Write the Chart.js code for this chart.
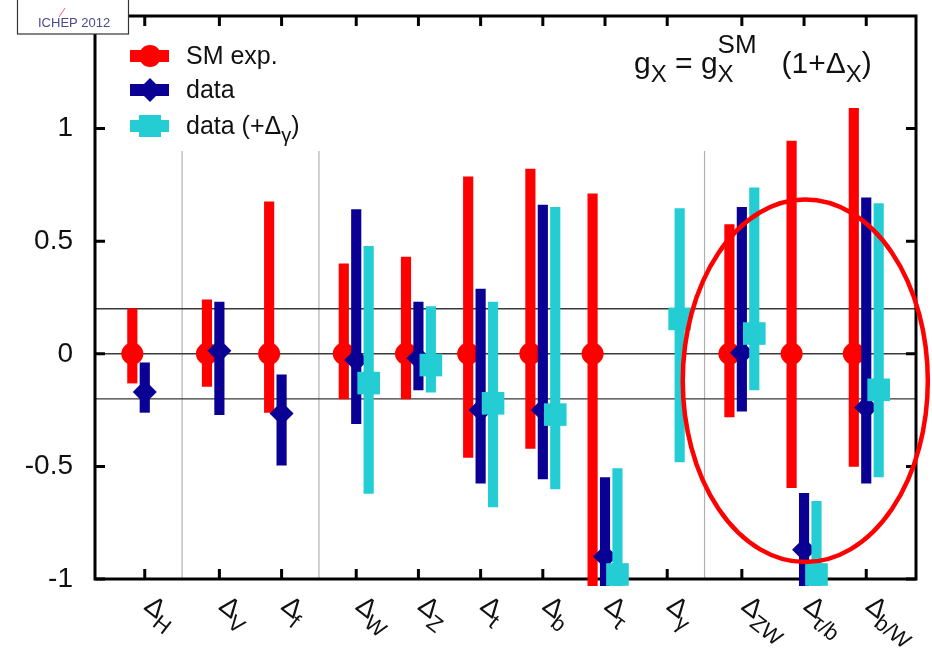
<!DOCTYPE html>
<html>
<head>
<meta charset="utf-8">
<script src="https://cdn.jsdelivr.net/npm/chart.js@4"></script>
<style>
  html, body { margin: 0; padding: 0; background: #fff; }
</style>
</head>
<body>
<canvas id="myChart" width="932" height="659"></canvas>
<script>
const ctx = document.getElementById("myChart");

// couplings (subscript of Δ) and their x positions (groups separated by a small gap)
const categories = ["H", "V", "f", "W", "Z", "t", "b", "τ", "γ", "ZW", "τ/b", "b/W"];
const catPos = [0, 1.2, 2.2, 3.4, 4.4, 5.4, 6.4, 7.4, 8.4, 9.6, 10.6, 11.6];
const separators = [0.6, 2.8, 9.0];
const refLines = [0.2, 0, -0.2];

// SM expectation (red)
const smCentral = [0, 0, 0, 0, 0, 0, 0, 0, null, 0, 0, 0];
const smLow = [-0.13, -0.145, -0.26, -0.2, -0.2, -0.46, -0.42, -1.2, null, -0.28, -0.595, -0.5];
const smHigh = [0.2, 0.24, 0.675, 0.4, 0.43, 0.786, 0.82, 0.71, null, 0.574, 0.945, 1.09];

// data (dark blue)
const dataCentral = [-0.17, 0.013, -0.265, -0.027, -0.02, -0.25, -0.25, -0.9, null, 0.005, -0.87, -0.238];
const dataLow = [-0.26, -0.27, -0.495, -0.31, -0.16, -0.574, -0.556, -1.2, null, -0.255, -1.2, -0.574];
const dataHigh = [-0.04, 0.23, -0.093, 0.64, 0.23, 0.287, 0.66, -0.55, null, 0.65, -0.62, 0.693];

// data with Δγ free (cyan)
const gamCentral = [null, null, null, -0.13, -0.05, -0.22, -0.27, -0.98, 0.155, 0.09, -0.98, -0.16];
const gamLow = [null, null, null, -0.62, -0.17, -0.68, -0.6, -1.2, -0.48, -0.16, -1.2, -0.547];
const gamHigh = [null, null, null, 0.477, 0.21, 0.23, 0.65, -0.51, 0.645, 0.737, -0.655, 0.667];

const shifts = [-0.2, 0, 0.2];
const highlight = { x: 10.62, y: -0.12, rx: 1.97, ry: 0.805 };

const RED = "#ff0000";
const BLUE = "#0a0094";
const CYAN = "#24ccd4";
const FONT = "'Liberation Sans', Arial, sans-serif";

function bars(lo, hi, shift) {
  return catPos.map(function (p, i) {
    return lo[i] === null ? null : { x: p + shift, y: [lo[i], hi[i]] };
  }).filter(Boolean);
}
function points(c, shift) {
  return catPos.map(function (p, i) {
    return c[i] === null ? null : { x: p + shift, y: c[i] };
  }).filter(Boolean);
}

function drawRich(c, parts, x, y, size) {
  c.textAlign = "left";
  c.textBaseline = "alphabetic";
  parts.forEach(function (p) {
    if (p.sub) {
      c.font = Math.round(size * 0.8) + "px " + FONT;
      const w = c.measureText(p.t).width;
      c.fillText(p.t, x, y + size * 0.3);
      let w2 = 0;
      if (p.sup) {
        c.font = Math.round(size * 0.88) + "px " + FONT;
        w2 = c.measureText(p.sup).width;
        c.fillText(p.sup, x, y - size * 0.66);
      }
      x += Math.max(w, w2);
    } else {
      c.font = size + "px " + FONT;
      c.fillText(p.t, x, y);
      x += c.measureText(p.t).width;
    }
  });
}

const framePlugin = {
  id: "frame",
  beforeDatasetsDraw(chart) {
    const c = chart.ctx, a = chart.chartArea;
    const xs = chart.scales.x, ys = chart.scales.y;
    c.save();
    // separators
    c.strokeStyle = "#b0b0b0";
    c.lineWidth = 1.2;
    separators.forEach(function (s) {
      const px = xs.getPixelForValue(s);
      c.beginPath();
      c.moveTo(px, ys.getPixelForValue(0.9));
      c.lineTo(px, a.bottom);
      c.stroke();
    });
    // reference lines
    c.strokeStyle = "#3a3a3a";
    c.lineWidth = 1.4;
    refLines.forEach(function (v) {
      const py = ys.getPixelForValue(v);
      c.beginPath();
      c.moveTo(a.left, py);
      c.lineTo(a.right, py);
      c.stroke();
    });
    // frame and inward ticks
    c.strokeStyle = "#000";
    c.lineWidth = 3;
    c.strokeRect(a.left, a.top, a.right - a.left, a.bottom - a.top);
    c.beginPath();
    ys.ticks.forEach(function (t) {
      const py = ys.getPixelForValue(t.value);
      c.moveTo(a.left, py); c.lineTo(a.left + 10, py);
      c.moveTo(a.right, py); c.lineTo(a.right - 10, py);
    });
    catPos.forEach(function (p) {
      const px = xs.getPixelForValue(p);
      c.moveTo(px, a.bottom); c.lineTo(px, a.bottom - 10);
      c.moveTo(px, a.top); c.lineTo(px, a.top + 10);
    });
    c.stroke();
    c.restore();
  },
  afterDraw(chart) {
    const c = chart.ctx, a = chart.chartArea;
    const xs = chart.scales.x, ys = chart.scales.y;
    c.save();
    c.fillStyle = "#111";

    // rotated x labels
    categories.forEach(function (cat, i) {
      const px = xs.getPixelForValue(catPos[i]);
      c.save();
      c.translate(px + 11, a.bottom + 13);
      c.rotate(38 * Math.PI / 180);
      c.textBaseline = "top";
      c.font = "27px " + FONT;
      c.fillText("Δ", 0, 0);
      const w = c.measureText("Δ").width;
      c.font = "22px " + FONT;
      c.fillText(cat, w - 1, 12);
      c.restore();
    });

    // legend
    const legend = [
      { color: RED, style: "circle", parts: [{ t: "SM exp." }] },
      { color: BLUE, style: "diamond", parts: [{ t: "data" }] },
      { color: CYAN, style: "square", parts: [{ t: "data (+Δ" }, { t: "γ", sub: true }, { t: ")" }] }
    ];
    const rowY = [56, 90, 126];
    legend.forEach(function (l, i) {
      const y = rowY[i];
      c.fillStyle = l.color;
      c.fillRect(130, y - 6, 39, 12);
      c.beginPath();
      if (l.style === "circle") {
        c.arc(150, y, 11, 0, Math.PI * 2);
      } else if (l.style === "diamond") {
        c.moveTo(150, y - 12); c.lineTo(162, y); c.lineTo(150, y + 12); c.lineTo(138, y); c.closePath();
      } else {
        c.rect(139, y - 11, 22, 22);
      }
      c.fill();
      c.fillStyle = "#111";
      drawRich(c, l.parts, 186, y + 8, 25);
    });

    // formula
    drawRich(c, [
      { t: "g" }, { t: "X", sub: true }, { t: " = g" }, { t: "X", sub: true, sup: "SM" },
      { t: "   (1+Δ" }, { t: "X", sub: true }, { t: ")" }
    ], 634, 73, 30);

    // ICHEP box
    c.fillStyle = "#fff";
    c.fillRect(17, -2, 112, 36);
    c.strokeStyle = "#333";
    c.lineWidth = 1.2;
    c.strokeRect(17.5, -2, 111, 36);
    c.fillStyle = "#4a4a8c";
    c.font = "13px " + FONT;
    c.textBaseline = "alphabetic";
    c.fillText("ICHEP 2012", 38, 27);
    c.strokeStyle = "#ff6070";
    c.lineWidth = 1;
    c.beginPath(); c.moveTo(59, 17); c.lineTo(65, 8); c.stroke();

    // highlight ellipse
    const cx = xs.getPixelForValue(highlight.x);
    const cy = ys.getPixelForValue(highlight.y);
    const rx = xs.getPixelForValue(highlight.x + highlight.rx) - cx;
    const ry = ys.getPixelForValue(highlight.y) - ys.getPixelForValue(highlight.y + highlight.ry);
    c.strokeStyle = RED;
    c.lineWidth = 4.5;
    c.beginPath();
    c.ellipse(cx, cy, rx, ry, 0, 0, Math.PI * 2);
    c.stroke();
    c.restore();
  }
};

const barOpts = {
  type: "bar",
  grouped: false,
  barThickness: 9.5,
  borderWidth: 0,
  borderSkipped: false,
  clip: { left: 0, top: 0, right: 0, bottom: 7 }
};
const ptOpts = {
  type: "scatter",
  showLine: false,
  borderWidth: 0,
  clip: { left: 5, top: 5, right: 5, bottom: 7 }
};

new Chart(ctx, {
  type: "bar",
  data: {
    datasets: [
      Object.assign({}, barOpts, { label: "SM exp.", data: bars(smLow, smHigh, shifts[0]), backgroundColor: RED, order: 6 }),
      Object.assign({}, ptOpts, { data: points(smCentral, shifts[0]), backgroundColor: RED, pointStyle: "circle", pointRadius: 11, order: 5 }),
      Object.assign({}, barOpts, { label: "data", data: bars(dataLow, dataHigh, shifts[1]), backgroundColor: BLUE, order: 4 }),
      Object.assign({}, ptOpts, { data: points(dataCentral, shifts[1]), backgroundColor: BLUE, pointStyle: "rectRot", pointRadius: 12, order: 3 }),
      Object.assign({}, barOpts, { label: "data (+Δγ)", data: bars(gamLow, gamHigh, shifts[2]), backgroundColor: CYAN, order: 2 }),
      Object.assign({}, ptOpts, { data: points(gamCentral, shifts[2]), backgroundColor: CYAN, pointStyle: "rect", pointRadius: 16, order: 1 })
    ]
  },
  options: {
    responsive: false,
    animation: false,
    events: [],
    layout: { padding: { left: 0, top: 12, right: 13, bottom: 80 } },
    plugins: { legend: { display: false }, tooltip: { enabled: false } },
    scales: {
      x: { type: "linear", min: -0.8, max: 12.4, offset: false, display: false },
      y: {
        min: -1,
        max: 1.5,
        grid: { display: false, drawTicks: false },
        border: { display: false },
        ticks: {
          stepSize: 0.5,
          padding: 22,
          color: "#111",
          font: { family: "Liberation Sans", size: 28, lineHeight: 0.8 },
          callback: function (v) { return String(Math.round(v * 10) / 10); }
        },
        afterBuildTicks: function (s) {
          s.ticks = s.ticks.filter(function (t) { return t.value <= 1.0001; });
        },
        afterFit: function (s) {
          s.width = 95;
          s.paddingTop = 0;
          s.paddingBottom = 0;
        }
      }
    }
  },
  plugins: [framePlugin]
});
</script>
</body>
</html>
